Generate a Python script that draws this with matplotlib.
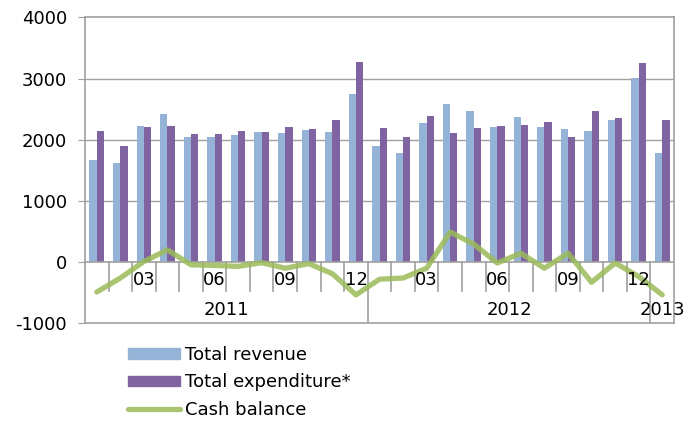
import matplotlib
matplotlib.use("Agg")
import matplotlib.pyplot as plt
import numpy as np
from matplotlib.patches import Patch
from matplotlib.lines import Line2D

# monthly data, Jan 2011 .. Jan 2013
months = ["01", "02", "03", "04", "05", "06", "07", "08", "09", "10", "11", "12"] * 2 + ["01"]
years = ["2011"] * 12 + ["2012"] * 12 + ["2013"]
revenue = [1670, 1620, 2225, 2415, 2050, 2045, 2075, 2120, 2110, 2165, 2120, 2740,
           1900, 1780, 2270, 2580, 2470, 2215, 2375, 2205, 2175, 2145, 2325, 3010,
           1785]
expenditure = [2150, 1900, 2215, 2230, 2090, 2095, 2145, 2130, 2210, 2175, 2330, 3270,
               2195, 2045, 2395, 2105, 2190, 2220, 2235, 2295, 2040, 2465, 2355, 3260,
               2325]
cash = [-490, -260, 10, 200, -45, -55, -70, -10, -100, -25, -190, -535,
        -280, -260, -100, 490, 295, -15, 145, -100, 145, -330, -15, -235,
        -535]
shown_months = ["03", "06", "09", "12"]

C_REV = "#95B3D7"
C_EXP = "#8064A2"
C_CASH = "#9BBB59"
GRID = "#A0A0A0"

plt.rcParams["font.family"] = "DejaVu Sans"
plt.rcParams["axes.unicode_minus"] = False
fig = plt.figure(figsize=(6.88, 4.21), dpi=100)
ax = fig.add_axes([85 / 688, 1 - 323.3 / 421, (674 - 85) / 688, (323.3 - 17.3) / 421])

x = np.arange(len(months))
w = 0.31
ax.bar(x - w / 2, revenue, w, color=C_REV, zorder=2)
ax.bar(x + w / 2, expenditure, w, color=C_EXP, zorder=2)
ax.plot(x, cash, color=C_CASH, lw=3.8, alpha=0.85, solid_joinstyle="round",
        solid_capstyle="round", zorder=4)

ax.set_xlim(-0.5, len(months) - 0.5)
ax.set_ylim(-1000, 4000)
ax.set_yticks([-1000, 0, 1000, 2000, 3000, 4000])
ax.tick_params(axis="y", length=5, color=GRID, pad=8, labelsize=13)
ax.set_xticks([])
for yv in [1000, 2000, 3000]:
    ax.axhline(yv, color=GRID, lw=1, zorder=1)
ax.axhline(0, color=GRID, lw=1.2, zorder=3)
for s in ax.spines.values():
    s.set_color(GRID)
    s.set_linewidth(1.2)

# multi-level category axis drawn inside the plot area
for i in range(1, len(months)):
    if years[i] != years[i - 1]:
        ax.plot([i - 0.5, i - 0.5], [0, -1000], color=GRID, lw=1.2, zorder=3)
    else:
        ax.plot([i - 0.5, i - 0.5], [0, -470], color=GRID, lw=1.2, zorder=3)
for i, m in enumerate(months):
    if m in shown_months:
        ax.text(i, -290, m, ha="center", va="center", fontsize=13, zorder=5)
for yr in dict.fromkeys(years):
    idx = [i for i, v in enumerate(years) if v == yr]
    ax.text(np.mean(idx), -780, yr, ha="center", va="center", fontsize=13,
            zorder=5, clip_on=False)

handles = [Patch(color=C_REV), Patch(color=C_EXP),
           Line2D([], [], color=C_CASH, lw=3.8, alpha=0.85, solid_capstyle="round")]
fig.legend(handles, ["Total revenue", "Total expenditure*", "Cash balance"],
           loc="upper left", bbox_to_anchor=(128 / 688, 1 - 346 / 421),
           frameon=False, fontsize=13, borderpad=0, borderaxespad=0,
           handlelength=2.9, handleheight=0.55, handletextpad=0.25,
           labelspacing=0.52)

fig.savefig("out.png", dpi=100)
